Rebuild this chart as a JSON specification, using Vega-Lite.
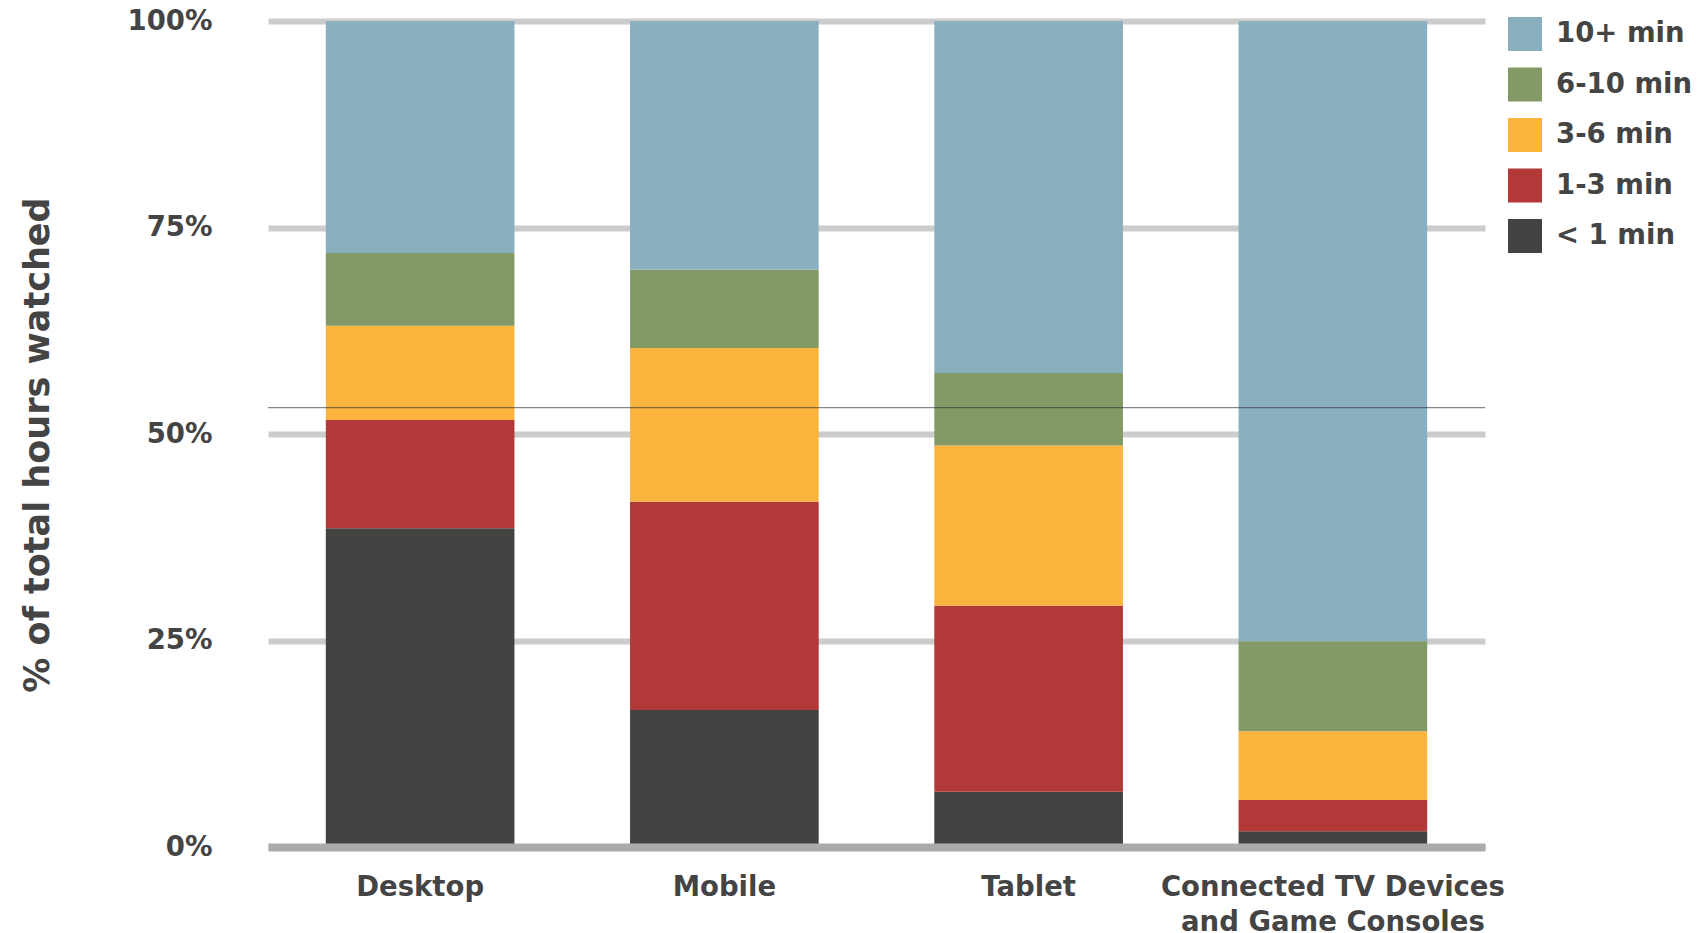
{
  "$schema": "https://vega.github.io/schema/vega-lite/v6.json",
  "width": 1217,
  "height": 826,
  "autosize": {"type": "none"},
  "padding": {"left": 268, "top": 21, "right": 215, "bottom": 86},
  "background": "white",
  "config": {"view": {"stroke": null}, "font": "DejaVu Sans"},
  "data": {
    "values": [
      {"device": "Desktop", "duration": "< 1 min", "k": 1, "pct": 38.6},
      {"device": "Desktop", "duration": "1-3 min", "k": 2, "pct": 13.1},
      {"device": "Desktop", "duration": "3-6 min", "k": 3, "pct": 11.4},
      {"device": "Desktop", "duration": "6-10 min", "k": 4, "pct": 8.8},
      {"device": "Desktop", "duration": "10+ min", "k": 5, "pct": 28.1},
      {"device": "Mobile", "duration": "< 1 min", "k": 1, "pct": 16.6},
      {"device": "Mobile", "duration": "1-3 min", "k": 2, "pct": 25.2},
      {"device": "Mobile", "duration": "3-6 min", "k": 3, "pct": 18.6},
      {"device": "Mobile", "duration": "6-10 min", "k": 4, "pct": 9.5},
      {"device": "Mobile", "duration": "10+ min", "k": 5, "pct": 30.1},
      {"device": "Tablet", "duration": "< 1 min", "k": 1, "pct": 6.7},
      {"device": "Tablet", "duration": "1-3 min", "k": 2, "pct": 22.5},
      {"device": "Tablet", "duration": "3-6 min", "k": 3, "pct": 19.4},
      {"device": "Tablet", "duration": "6-10 min", "k": 4, "pct": 8.8},
      {"device": "Tablet", "duration": "10+ min", "k": 5, "pct": 42.6},
      {"device": "Connected TV Devices and Game Consoles", "duration": "< 1 min", "k": 1, "pct": 1.9},
      {"device": "Connected TV Devices and Game Consoles", "duration": "1-3 min", "k": 2, "pct": 3.8},
      {"device": "Connected TV Devices and Game Consoles", "duration": "3-6 min", "k": 3, "pct": 8.3},
      {"device": "Connected TV Devices and Game Consoles", "duration": "6-10 min", "k": 4, "pct": 10.9},
      {"device": "Connected TV Devices and Game Consoles", "duration": "10+ min", "k": 5, "pct": 75.1}
    ]
  },
  "layer": [
    {
      "mark": {"type": "bar"},
      "encoding": {
        "x": {
          "field": "device",
          "type": "nominal",
          "sort": null,
          "scale": {"paddingInner": 0.38, "paddingOuter": 0.19},
          "axis": {
            "title": null,
            "labelAngle": 0,
            "labelFont": "DejaVu Sans",
            "labelFontSize": 27.5,
            "labelFontWeight": "bold",
            "labelColor": "#444444",
            "labelPadding": 48,
            "labelBaseline": "alphabetic",
            "labelLineHeight": 35,
            "labelLimit": 0,
            "labelExpr": "datum.value == 'Connected TV Devices and Game Consoles' ? ['Connected TV Devices', 'and Game Consoles'] : datum.value",
            "ticks": false,
            "tickSize": 0,
            "domain": true,
            "domainColor": "#ABABAB",
            "domainWidth": 8,
            "grid": false,
            "zindex": 1
          }
        },
        "y": {
          "field": "pct",
          "type": "quantitative",
          "stack": "zero",
          "scale": {"domain": [0, 100]},
          "axis": {
            "title": "% of total hours watched",
            "values": [0, 25, 50, 75, 100],
            "labelExpr": "datum.value + '%'",
            "grid": true,
            "gridColor": "#CCCCCC",
            "gridWidth": 6,
            "domain": false,
            "ticks": false,
            "tickSize": 0,
            "labelFont": "DejaVu Sans",
            "labelFontSize": 27.5,
            "labelFontWeight": "bold",
            "labelColor": "#444444",
            "labelPadding": 56,
            "titleFont": "DejaVu Sans",
            "titleFontSize": 35,
            "titleFontWeight": "bold",
            "titleColor": "#444444",
            "titleX": -220,
            "titleY": 423.5,
            "titleAngle": 270,
            "titleBaseline": "alphabetic",
            "titleAlign": "center",
            "zindex": 0
          }
        },
        "color": {
          "field": "duration",
          "type": "nominal",
          "scale": {
            "domain": ["10+ min", "6-10 min", "3-6 min", "1-3 min", "< 1 min"],
            "range": ["#8AAFBF", "#839A66", "#FBB53E", "#B33838", "#434341"]
          },
          "legend": {
            "orient": "none",
            "legendX": 1240,
            "legendY": -4,
            "title": null,
            "symbolType": "square",
            "symbolSize": 1156,
            "symbolStrokeWidth": 0,
            "symbolOpacity": 1,
            "labelFont": "DejaVu Sans",
            "labelFontSize": 27.5,
            "labelFontWeight": "bold",
            "labelColor": "#444444",
            "labelOffset": 14,
            "labelLimit": 0,
            "rowPadding": 16.5,
            "padding": 0
          }
        },
        "order": {"field": "k", "type": "quantitative"}
      }
    },
    {
      "data": {"values": [{}]},
      "mark": {"type": "rule", "color": "#333344", "opacity": 0.6, "strokeWidth": 1.2},
      "encoding": {"y": {"datum": 53.2}}
    }
  ]
}
